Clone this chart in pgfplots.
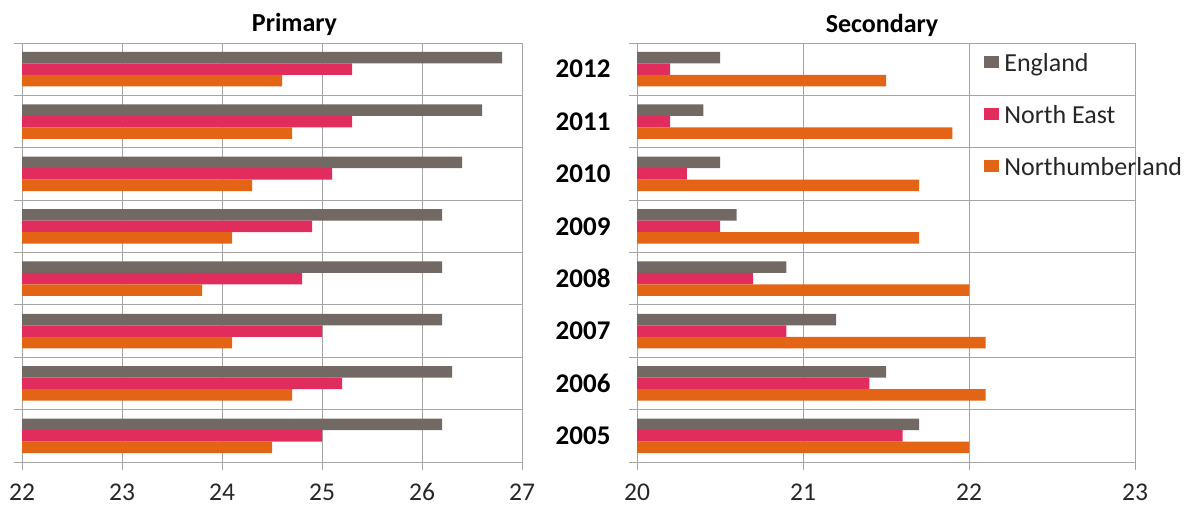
\documentclass[border=0pt]{standalone}
\usepackage{fontspec}
\setmainfont{Carlito}
\usepackage{pgfplots}
\usepackage{pgfplotstable}
\pgfplotsset{compat=1.18}

\definecolor{engl}{RGB}{115,105,100}
\definecolor{neast}{RGB}{224,45,93}
\definecolor{nland}{RGB}{227,100,20}
\definecolor{gridc}{RGB}{165,165,165}

% year index: 0 = 2005 ... 7 = 2012
\pgfplotstableread{
idx eng  ne   nl
0   26.2 25.0 24.5
1   26.3 25.2 24.7
2   26.2 25.0 24.1
3   26.2 24.8 23.8
4   26.2 24.9 24.1
5   26.4 25.1 24.3
6   26.6 25.3 24.7
7   26.8 25.3 24.6
}\primary

\pgfplotstableread{
idx eng  ne   nl
0   21.7 21.6 22.0
1   21.5 21.4 22.1
2   21.2 20.9 22.1
3   20.9 20.7 22.0
4   20.6 20.5 21.7
5   20.5 20.3 21.7
6   20.4 20.2 21.9
7   20.5 20.2 21.5
}\secondary

\pgfplotsset{
  schoolbars/.style={
    xbar=0pt, scale only axis, height=419pt,
    ymin=-0.5, ymax=7.5,
    ytick={-0.5,0.5,...,7.5}, yticklabels={},
    xmajorgrids, ymajorgrids,
    grid style={gridc, line width=0.9pt},
    axis line style={gridc, line width=0.9pt},
    tick style={gridc, line width=0.9pt},
    tick align=outside, major tick length=8pt,
    xtick pos=bottom, ytick pos=left,
    bar width=11.5pt,
    /pgf/number format/assume math mode=true,
    xticklabel style={font=\fontsize{25.5}{28}\selectfont, text=black!85, yshift=-10pt},
    title style={font=\bfseries\fontsize{26}{28}\selectfont, anchor=base, yshift=6pt},
    clip=true,
  },
  engbar/.style={fill=engl, draw=none, bar shift=11.5pt},
  nebar/.style={fill=neast, draw=none, bar shift=0pt},
  nlbar/.style={fill=nland, draw=none, bar shift=-11.5pt},
}

\begin{document}
\begin{tikzpicture}
\useasboundingbox (0,0) rectangle (1190pt,507pt);

% Primary
\begin{axis}[schoolbars, at={(22pt,45pt)}, anchor=south west, width=500pt,
  xmin=22, xmax=27, xtick={22,...,27},
  title={Primary}, title style={at={(0.545,1)}}]
  \addplot[engbar] table[x=eng, y=idx] {\primary};
  \addplot[nebar]  table[x=ne,  y=idx] {\primary};
  \addplot[nlbar]  table[x=nl,  y=idx] {\primary};
\end{axis}

% Secondary
\begin{axis}[schoolbars, at={(637pt,45pt)}, anchor=south west, width=498pt,
  xmin=20, xmax=23, xtick={20,...,23},
  extra y ticks={0,...,7},
  extra y tick labels={2005,2006,2007,2008,2009,2010,2011,2012},
  extra y tick style={grid=none, tick style={draw=none},
    yticklabel style={font=\bfseries\fontsize{27}{30}\selectfont, text=black, xshift=-15pt}},
  title={Secondary}, title style={at={(0.492,1)}, yshift=-1.5pt},
  legend style={at={(0.691,0.981)}, anchor=north west, draw=none, fill=none,
    font=\fontsize{26}{28}\selectfont, column sep=5pt, row sep=28pt,
    nodes={inner sep=0pt, text height=18pt, text depth=6pt, text=black!85}},
  legend cell align=left,
  legend image code/.code={\fill (0pt,-2.5pt) rectangle (15pt,9.5pt);}]
  \addplot[engbar] table[x=eng, y=idx] {\secondary};
  \addlegendentry{England}
  \addplot[nebar]  table[x=ne,  y=idx] {\secondary};
  \addlegendentry{North East}
  \addplot[nlbar]  table[x=nl,  y=idx] {\secondary};
  \addlegendentry{Northumberland}
\end{axis}
\end{tikzpicture}
\end{document}
